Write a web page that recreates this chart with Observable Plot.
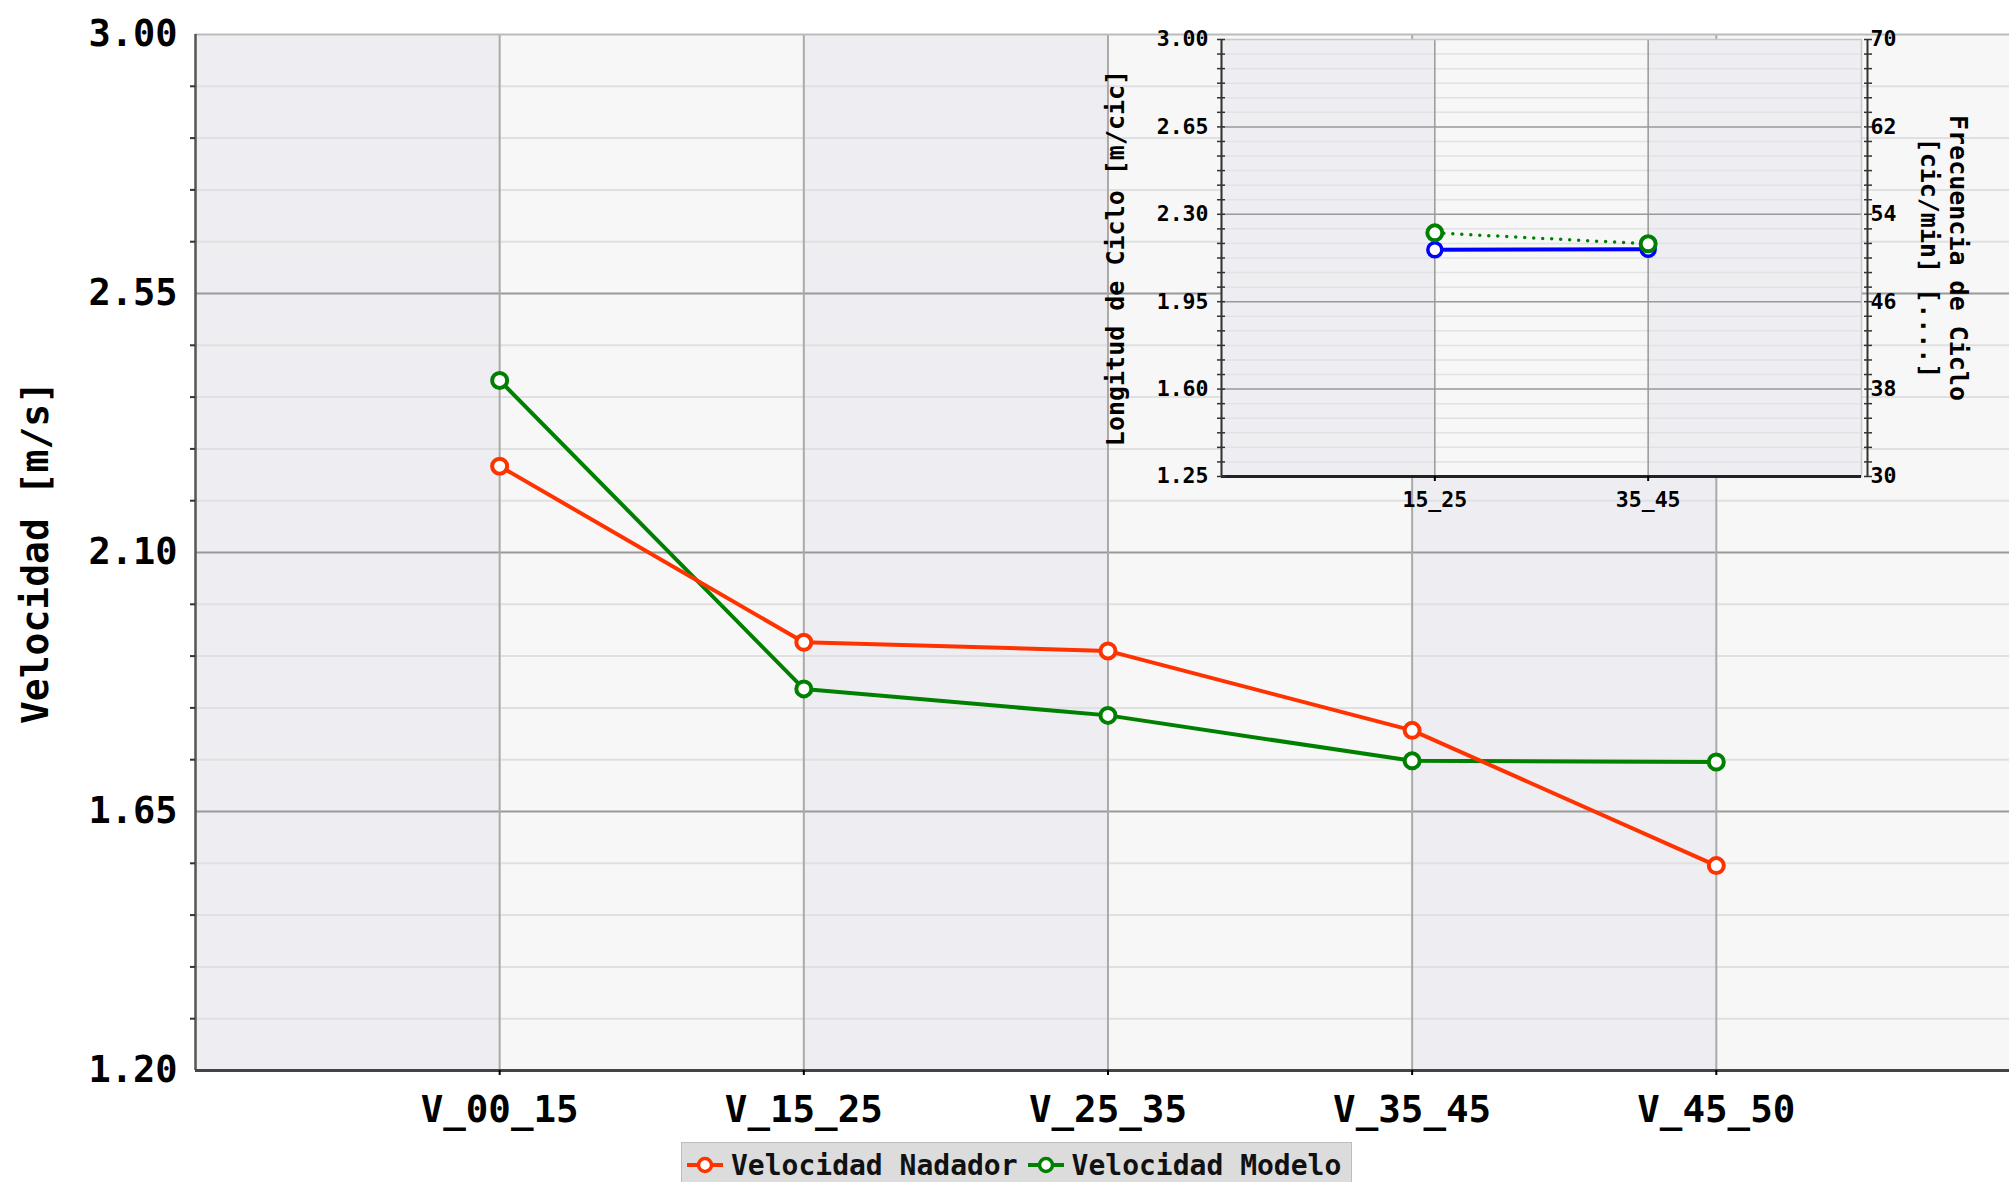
<!DOCTYPE html>
<html>
<head>
<meta charset="utf-8">
<script src="https://cdn.jsdelivr.net/npm/d3@7"></script>
<script src="https://cdn.jsdelivr.net/npm/@observablehq/plot@0.6"></script>
<style>
html,body{margin:0;padding:0;background:#fff;overflow:hidden;}
#wrap{position:relative;width:2009px;height:1182px;}
#inset1,#inset2{position:absolute;left:1080px;top:0;}
#legend{position:absolute;left:681px;top:1142px;width:671px;box-sizing:border-box;background:#dcdcdc;border:1px solid #bdbdbd;font-family:'DejaVu Sans Mono',monospace;font-weight:bold;font-size:28px;color:#111;display:flex;align-items:center;padding:0 0 0 5px;white-space:nowrap;height:46px;}
#legend .it{display:flex;align-items:center;}
#legend svg{display:block;margin-right:8px;}
</style>
</head>
<body>
<div id="wrap">
  <div id="main"></div>
  <div id="inset1"></div>
  <div id="inset2"></div>
  <div id="legend"></div>
</div>
<script>
// ---- main chart data ----
const categories = ["V_00_15", "V_15_25", "V_25_35", "V_35_45", "V_45_50"];
const nadador = [2.25, 1.944, 1.929, 1.791, 1.556];
const modelo = [2.399, 1.863, 1.817, 1.738, 1.736];
const yTicks = [1.20, 1.65, 2.10, 2.55, 3.00];
const seriesNames = ["Velocidad Nadador", "Velocidad Modelo"];
const seriesColors = ["#ff3300", "#008000"];

// ---- inset data ----
const insetCategories = ["15_25", "35_45"];
const longitud = [2.158, 2.160];
const frecuencia = [52.3, 51.3];
const insetLeftTicks = [1.25, 1.60, 1.95, 2.30, 2.65, 3.00];
const insetRightTicks = [30, 38, 46, 54, 62, 70];
const insetLeftTitle = "Longitud de Ciclo [m/cic]";
const insetRightTitle = "Frecuencia de Ciclo\n[cic/min] [....]";
const mainYTitle = "Velocidad [m/s]";

const FONT = "'DejaVu Sans Mono', monospace";

const mainMinor = d3.range(21).map(k => 1.2 + k * 0.09).filter((_, k) => k % 5 !== 0);
const idx = categories.map((_, i) => i + 1);

const main = Plot.plot({
  width: 2009, height: 1141,
  marginTop: 34, marginBottom: 71, marginLeft: 195, marginRight: 0,
  x: {type: "linear", domain: [0, 5.964]},
  y: {domain: [1.2, 3.0]},
  style: {fontFamily: FONT, fontWeight: "bold", fontSize: "37px", background: "white", maxWidth: "none", color: "#000"},
  marks: [
    Plot.rect([0, 2, 4], {x1: d => d, x2: d => d + 1, y1: () => 1.2, y2: () => 3.0, fill: "#eeeef2"}),
    Plot.rect([1, 3, 5], {x1: d => d, x2: d => d + 1, y1: () => 1.2, y2: () => 3.0, fill: "#f7f7f7"}),
    Plot.ruleY(mainMinor, {stroke: "#e0e0e0", strokeWidth: 2}),
    Plot.ruleY(yTicks.slice(1, -1), {stroke: "#999", strokeWidth: 2}),
    Plot.ruleX(idx, {stroke: "#aaa", strokeWidth: 2}),
    Plot.ruleY([3.0], {stroke: "#bbb", strokeWidth: 2}),
    Plot.ruleX([0], {stroke: "#555", strokeWidth: 2.5}),
    Plot.ruleY([1.2], {stroke: "#444", strokeWidth: 3}),
    Plot.axisY(mainMinor, {tickSize: 5, tickFormat: () => "", label: null, strokeWidth: 2, stroke: "#333"}),
    Plot.axisY(yTicks, {tickSize: 0, tickPadding: 18, tickFormat: d => d.toFixed(2), label: null, fontSize: 37}),
    Plot.axisX(idx, {tickSize: 5, tickPadding: 20, tickFormat: i => categories[i - 1], label: null, fontSize: 37.5, strokeWidth: 2}),
    Plot.text([mainYTitle], {text: d => d, frameAnchor: "left", textAnchor: "middle", lineAnchor: "middle", dx: -160, rotate: -90, fontSize: 38, fontWeight: "bold"}),
    Plot.line(modelo, {x: (d, i) => i + 1, y: d => d, stroke: seriesColors[1], strokeWidth: 4}),
    Plot.line(nadador, {x: (d, i) => i + 1, y: d => d, stroke: seriesColors[0], strokeWidth: 4}),
    Plot.dot(modelo, {x: (d, i) => i + 1, y: d => d, r: 7.5, fill: "white", stroke: seriesColors[1], strokeWidth: 4}),
    Plot.dot(nadador, {x: (d, i) => i + 1, y: d => d, r: 7.5, fill: "white", stroke: seriesColors[0], strokeWidth: 4})
  ]
});
document.getElementById("main").appendChild(main);

// ---- inset: left axis (Longitud) ----
const insetMinor = d3.range(31).map(k => 1.25 + k * 0.35 / 6).filter((_, k) => k % 6 !== 0);
const insetAll = d3.range(31).map(k => 1.25 + k * 0.35 / 6);
const insetIdx = insetCategories.map((_, i) => i + 1);
const dims = {width: 929, height: 540, marginLeft: 141, marginRight: 148, marginTop: 39, marginBottom: 64};

const inset1 = Plot.plot({
  ...dims,
  x: {type: "linear", domain: [0, 3]},
  y: {domain: [1.25, 3.0]},
  style: {fontFamily: FONT, fontWeight: "bold", fontSize: "21px", background: "transparent", maxWidth: "none", color: "#000"},
  marks: [
    Plot.rect([0, 2], {x1: d => d, x2: d => d + 1, y1: () => 1.25, y2: () => 3.0, fill: "#eeeef2"}),
    Plot.rect([1], {x1: d => d, x2: d => d + 1, y1: () => 1.25, y2: () => 3.0, fill: "#f7f7f7"}),
    Plot.ruleY(insetMinor, {stroke: "#e2e2e2", strokeWidth: 1.5}),
    Plot.ruleY(insetLeftTicks.slice(1, -1), {stroke: "#999", strokeWidth: 1.5}),
    Plot.ruleX(insetIdx, {stroke: "#999", strokeWidth: 1.5}),
    Plot.frame({stroke: "#c8c8c8", strokeWidth: 1.5}),
    Plot.ruleY([1.25], {stroke: "#222", strokeWidth: 3}),
    Plot.ruleX([0], {stroke: "#333", strokeWidth: 2}),
    Plot.axisY(insetAll, {tickSize: 8, dx: 4, tickFormat: () => "", label: null, strokeWidth: 1.5, stroke: "#333"}),
    Plot.axisY(insetLeftTicks, {tickSize: 0, tickPadding: 13, tickFormat: d => d.toFixed(2), label: null, fontSize: 21.5}),
    Plot.axisX(insetIdx, {tickSize: 5, tickPadding: 10, tickFormat: i => insetCategories[i - 1], label: null, fontSize: 21.5, strokeWidth: 2}),
    Plot.text([insetLeftTitle], {text: d => d, frameAnchor: "left", textAnchor: "middle", lineAnchor: "middle", dx: -106, rotate: -90, fontSize: 25, fontWeight: "bold"}),
    Plot.line(longitud, {x: (d, i) => i + 1, y: d => d, stroke: "#0000ff", strokeWidth: 4}),
    Plot.dot(longitud, {x: (d, i) => i + 1, y: d => d, r: 7, fill: "white", stroke: "#0000ff", strokeWidth: 3.5})
  ]
});
document.getElementById("inset1").appendChild(inset1);

// ---- inset: right axis (Frecuencia) ----
const rightAll = d3.range(31).map(k => 30 + k * 8 / 6);
const inset2 = Plot.plot({
  ...dims,
  x: {type: "linear", domain: [0, 3], axis: null},
  y: {domain: [30, 70], axis: null},
  style: {fontFamily: FONT, fontWeight: "bold", fontSize: "21px", background: "transparent", maxWidth: "none", color: "#000"},
  marks: [
    Plot.ruleX([3], {dx: 6, stroke: "#333", strokeWidth: 2}),
    Plot.axisY(rightAll, {anchor: "right", tickSize: 8, dx: 2, tickFormat: () => "", label: null, strokeWidth: 1.5, stroke: "#333"}),
    Plot.axisY(insetRightTicks, {anchor: "right", tickSize: 0, tickPadding: 9, tickFormat: d => String(d), label: null, fontSize: 21.5}),
    Plot.text([insetRightTitle], {text: d => d, frameAnchor: "right", textAnchor: "middle", lineAnchor: "middle", dx: 83, rotate: 90, fontSize: 25, fontWeight: "bold", lineHeight: 1.15}),
    Plot.line(frecuencia, {x: (d, i) => i + 1, y: d => d, stroke: "#008000", strokeWidth: 3.5, strokeDasharray: "0 9", strokeLinecap: "round"}),
    Plot.dot(frecuencia, {x: (d, i) => i + 1, y: d => d, r: 7.5, fill: "white", stroke: "#008000", strokeWidth: 4})
  ]
});
document.getElementById("inset2").appendChild(inset2);

// ---- legend ----
const legend = document.getElementById("legend");
seriesNames.forEach((name, k) => {
  const it = document.createElement("div");
  it.className = "it";
  it.style.marginRight = k === 0 ? "10px" : "0";
  it.innerHTML = `<svg width="36" height="24"><line x1="0" x2="36" y1="12" y2="12" stroke="${seriesColors[k]}" stroke-width="4"/><circle cx="18" cy="12" r="6.5" fill="white" stroke="${seriesColors[k]}" stroke-width="3.5"/></svg><span>${name}</span>`;
  legend.appendChild(it);
});
</script>
</body>
</html>
